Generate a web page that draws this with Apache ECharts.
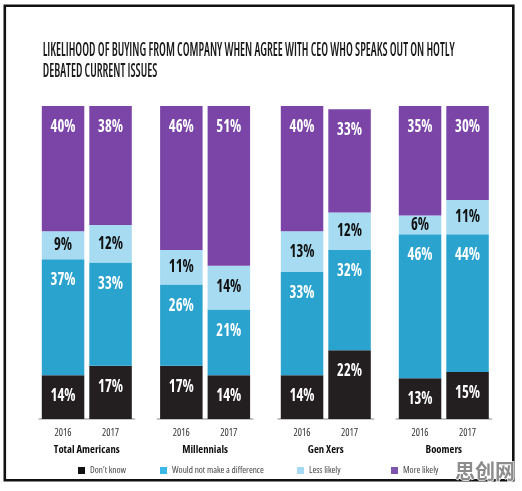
<!DOCTYPE html>
<html>
<head>
<meta charset="utf-8">
<script src="https://cdn.jsdelivr.net/npm/echarts@6/dist/echarts.min.js"></script>
<style>
html,body{margin:0;padding:0;background:#fff;}
#chart{width:522px;height:491px;}
</style>
</head>
<body>
<div id="chart"></div>
<script>
// ---- data ----
const titleLines = ['LIKELIHOOD OF BUYING FROM COMPANY WHEN AGREE WITH CEO WHO SPEAKS OUT ON HOTLY', 'DEBATED CURRENT ISSUES'];
const groups = ['Total Americans', 'Millennials', 'Gen Xers', 'Boomers'];
const years = ['2016', '2017'];
const seriesNames = ['Don\u2019t know', 'Would not make a difference', 'Less likely', 'More likely'];
// order: TA16, TA17, Mil16, Mil17, GenX16, GenX17, Boom16, Boom17
const dontKnow   = [14, 17, 17, 14, 14, 22, 13, 15];
const wouldNot   = [37, 33, 26, 21, 33, 32, 46, 44];
const lessLikely = [9, 12, 11, 14, 13, 12, 6, 11];
const moreLikely = [40, 38, 46, 51, 40, 33, 35, 30];

// ---- styles ----
const colors = ['#231f20', '#2ba3cf', '#a6dbf2', '#7b45a8'];
const legendColors = ['#111111', '#3cb8e6', '#a6daf4', '#7d55ad'];
const labelColors = ['#ffffff', '#ffffff', '#111111', '#ffffff'];
const gridLefts = [39.3, 157.6, 278.3, 396.3];
const legendLefts = [73, 155, 292, 386];
const allValues = [dontKnow, wouldNot, lessLikely, moreLikely];

// ---- pick a narrow font ----
const cv = document.createElement('canvas').getContext('2d');
function pickNarrow() {
  const fams = ['"Open Sans"', '"Noto Sans"', 'Roboto', 'Inter'];
  for (const f of fams) {
    cv.font = 'bold 20px ' + f;
    const w1 = cv.measureText('Total Americans').width;
    cv.font = 'bold condensed 20px ' + f;
    const w2 = cv.measureText('Total Americans').width;
    if (w2 < 0.9 * w1) return {stretch: ' condensed', family: f};
  }
  return {stretch: '', family: '"DejaVu Sans Condensed","DejaVu Sans",sans-serif'};
}
const NF = pickNarrow();
const wt = w => w + NF.stretch;
function fitSize(text, weight, base, target) {
  cv.font = wt(weight) + ' ' + base + 'px ' + NF.family;
  const w = cv.measureText(text).width;
  return Math.min(base, base * target / w);
}
function fitScale(text, weight, size, target) {
  cv.font = wt(weight) + ' ' + size + 'px ' + NF.family;
  return target / cv.measureText(text).width;
}
const titleWeight = NF.stretch ? '600' : 'bold';
const titleFont = wt(titleWeight) + ' 20px ' + NF.family;
const titleScale = fitScale(titleLines[0], titleWeight, 20, 412);
const labelFont = wt('bold') + ' 18px ' + NF.family;
const labelScale = fitScale('40%', 'bold', 18, 25);
const nameSize = fitSize('Total Americans', 'bold', 11.5, 66);
const yearSize = fitSize('2016', 'normal', 10, 17);
const legendSize = fitSize('Would not make a difference', 'normal', 9.5, 92);

const chart = echarts.init(document.getElementById('chart'), null, {renderer: 'canvas'});

const grid = [], xAxis = [], yAxis = [], series = [];
groups.forEach((g, gi) => {
  grid.push({left: gridLefts[gi], top: 106, width: 95, height: 313});
  xAxis.push({
    type: 'category', gridIndex: gi, data: years, offset: 6,
    axisLine: {lineStyle: {color: '#c4c4c4', width: 2}},
    axisTick: {show: false},
    axisLabel: {fontFamily: NF.family, fontWeight: wt('normal'), fontSize: yearSize, color: '#333', margin: 3},
    name: g, nameLocation: 'middle', nameGap: 19,
    nameTextStyle: {fontFamily: NF.family, fontSize: nameSize, fontWeight: wt('bold'), color: '#111'}
  });
  yAxis.push({type: 'value', gridIndex: gi, min: 0, max: 100, show: false});
  const labelData = [];
  years.forEach((y, k) => {
    let base = 0;
    seriesNames.forEach((sn, si) => {
      const v = allValues[si][gi * 2 + k];
      labelData.push([k, base, v, si]);
      base += v;
    });
  });
  seriesNames.forEach((sn, si) => {
    series.push({
      type: 'bar', name: sn, stack: 'g' + gi,
      xAxisIndex: gi, yAxisIndex: gi,
      barWidth: 42.5,
      itemStyle: {color: colors[si]},
      data: allValues[si].slice(gi * 2, gi * 2 + 2),
      emphasis: {disabled: true}
    });
  });
  // value labels placed through the axes' coordinate system
  series.push({
    type: 'custom', name: 'labels' + gi, xAxisIndex: gi, yAxisIndex: gi, z: 5,
    silent: true, encode: {x: 0, y: 2},
    data: labelData,
    renderItem: (params, api) => {
      const k = api.value(0), base = api.value(1), v = api.value(2), si = api.value(3);
      const pTop = api.coord([k, base + v]);
      const pBot = api.coord([k, base]);
      const cy = v <= 13 ? (pTop[1] + pBot[1]) / 2 : pTop[1] + 21;
      return {
        type: 'text', x: pTop[0], y: cy, scaleX: labelScale, scaleY: 1,
        style: {text: v + '%', font: labelFont, fill: labelColors[si], align: 'center', verticalAlign: 'middle'}
      };
    }
  });
});

const legend = seriesNames.map((sn, i) => ({
  data: [{name: sn, itemStyle: {color: legendColors[i]}}],
  left: legendLefts[i], top: 461,
  icon: 'rect', itemWidth: 7, itemHeight: 7, itemGap: 5,
  selectedMode: false,
  textStyle: {fontFamily: NF.family, fontWeight: wt('normal'), fontSize: legendSize, color: '#444', padding: [0, 0, 0, 0]}
}));

chart.setOption({
  animation: false,
  backgroundColor: '#ffffff',
  grid, xAxis, yAxis, series, legend,
  graphic: [
    {type: 'rect', shape: {x: 4.8, y: 5.8, width: 508.5, height: 474.5},
     style: {fill: 'none', stroke: '#111', lineWidth: 2.6}, silent: true},
    {type: 'text', x: 42.7, y: 40.3, scaleX: titleScale, scaleY: 1,
     style: {text: titleLines.join('\n'), font: titleFont, lineHeight: 20.5,
             fill: '#1a1a1a', verticalAlign: 'top', align: 'left'}},
    {type: 'text', x: 455, y: 461,
     style: {text: '思创网', fontFamily: '"Noto Sans CJK SC",sans-serif', fontWeight: 'bold', fontSize: 20,
             fill: '#8c8c8c', stroke: '#ffffff', lineWidth: 1.5, verticalAlign: 'top', align: 'left'}}
  ]
});
</script>
</body>
</html>
